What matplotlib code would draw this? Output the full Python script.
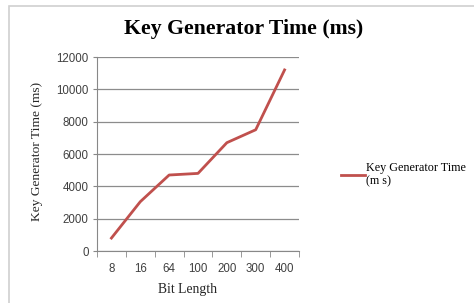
import matplotlib.pyplot as plt
from matplotlib.patches import Rectangle

bit_lengths = ["8", "16", "64", "100", "200", "300", "400"]
key_gen_ms = [800, 3050, 4700, 4800, 6700, 7500, 11200]
y_ticks = [0, 2000, 4000, 6000, 8000, 10000, 12000]

fig = plt.figure(figsize=(4.74, 3.03), dpi=100)
W, H = 474, 303

# light frame around the chart
fig.patches.append(Rectangle((9 / W, -0.01), 1.0, 1 - 6 / H + 0.01, transform=fig.transFigure,
                             fill=False, edgecolor="#d0d0d0", linewidth=1.2))

ax = fig.add_axes([97 / W, 1 - 251 / H, (299 - 97) / W, (251 - 57) / H])
xs = list(range(len(bit_lengths)))
ax.plot(xs, key_gen_ms, color="#c0504d", linewidth=2, label="Key Generator Time\n(m s)")

ax.set_xlim(-0.5, len(bit_lengths) - 0.5)
ax.set_ylim(0, 12000)
ax.set_yticks(y_ticks)
ax.set_yticklabels([str(v) for v in y_ticks], fontsize=8.3, color="#404040", family="Liberation Sans")
ax.set_xticks(xs)
ax.set_xticklabels(bit_lengths, fontsize=8.3, color="#404040", family="Liberation Sans")
ax.tick_params(axis="x", length=0, pad=9)
ax.set_xticks([i - 0.5 for i in range(len(bit_lengths) + 1)], minor=True)
ax.tick_params(axis="x", which="minor", length=4, color="#888888")
ax.tick_params(axis="y", length=3, color="#888888", pad=3)

ax.grid(axis="y", color="#8c8c8c", linewidth=0.9)
ax.set_axisbelow(True)
for s in ["top", "right"]:
    ax.spines[s].set_visible(False)
ax.spines["left"].set_color("#888888")
ax.spines["bottom"].set_color("#888888")

fig.text(244 / W, 1 - 29 / H, "Key Generator Time (ms)", ha="center", va="center",
         fontsize=15.7, fontweight="bold", family="Liberation Serif")
fig.text(37 / W, 1 - 151 / H, "Key Generator Time (ms)", ha="center", va="center",
         rotation=90, fontsize=9.7, family="Liberation Serif", color="#262626")
fig.text(188 / W, 1 - 289 / H, "Bit Length", ha="center", va="center",
         fontsize=9.8, family="Liberation Serif", color="#262626")

leg = fig.legend(loc="upper left", bbox_to_anchor=(336 / W, 1 - 157 / H), frameon=False,
                 prop={"family": "Liberation Serif", "size": 8.7}, handlelength=2.0,
                 handletextpad=0.1, borderaxespad=0)

fig.savefig("out.png", dpi=100)
